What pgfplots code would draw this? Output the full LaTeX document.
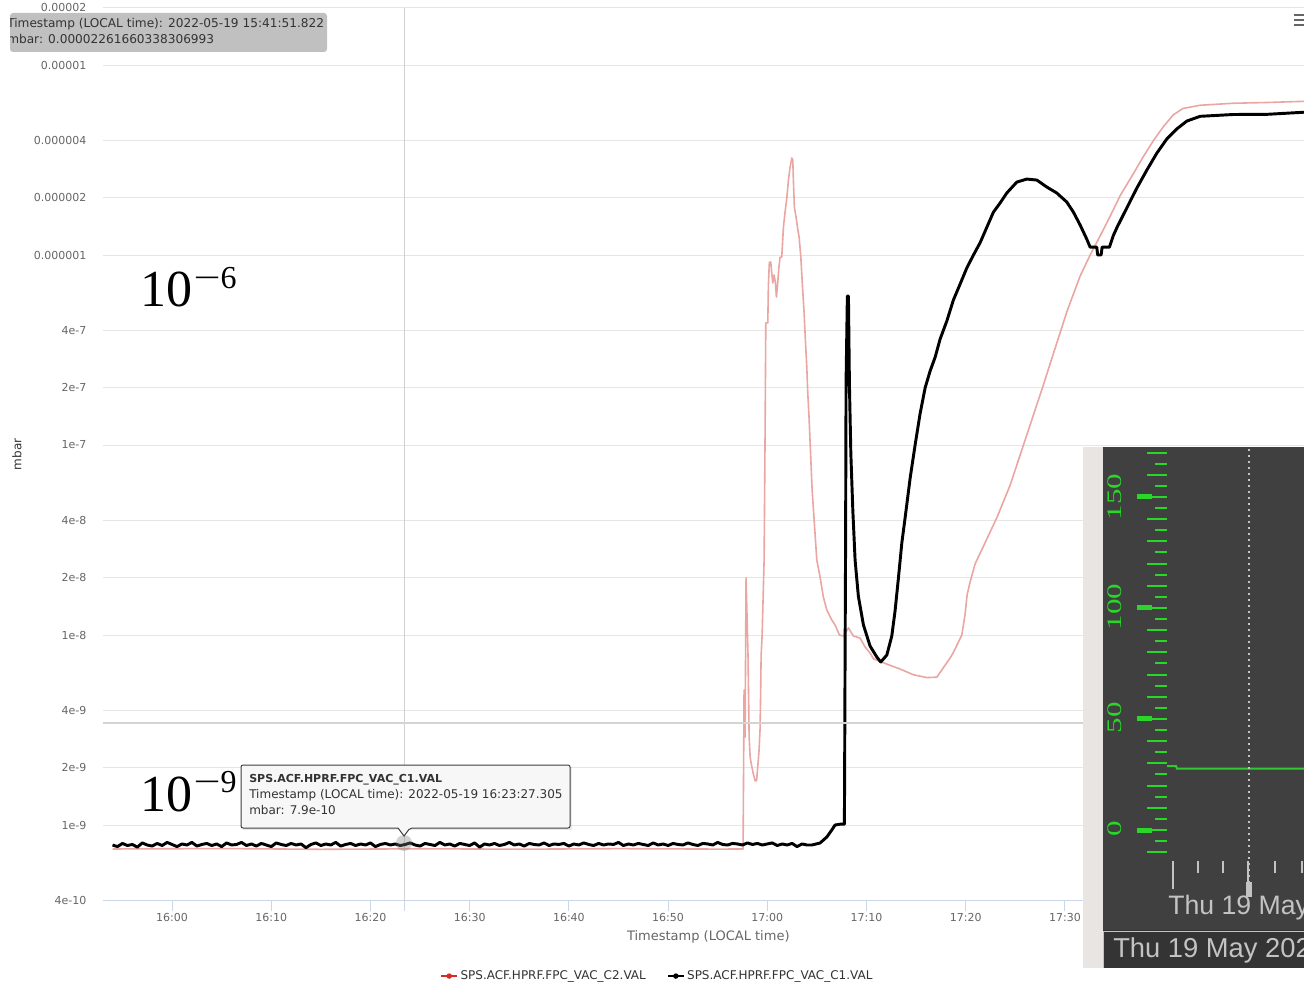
\documentclass[border=0pt]{standalone}
\usepackage{pgfplots}
\usepackage{graphicx}
\pgfplotsset{compat=1.18}
\usepackage{fontspec}
\setmainfont{DejaVu Sans}
\newfontfamily\insetserif{Liberation Serif}
\newfontfamily\insetsans{Liberation Sans}
\newfontfamily\annfont{Liberation Serif}
\definecolor{gridc}{RGB}{230,230,230}
\definecolor{xline}{RGB}{204,214,235}
\definecolor{lbl}{RGB}{102,102,102}
\definecolor{txt}{RGB}{51,51,51}
\definecolor{pinkline}{RGB}{234,166,163}
\definecolor{legred}{RGB}{212,42,42}
\definecolor{tipgray}{RGB}{192,192,192}
\definecolor{tipfill}{RGB}{247,247,247}
\definecolor{crossh}{RGB}{210,210,210}
\definecolor{darkbg}{RGB}{64,64,64}
\definecolor{darkbar}{RGB}{52,52,52}
\definecolor{strip}{RGB}{233,229,227}
\definecolor{gtick}{RGB}{40,215,40}
\definecolor{gline}{RGB}{50,200,50}
\definecolor{insettxt}{RGB}{195,195,195}
\definecolor{sepc}{RGB}{212,212,212}
\begin{document}
\begin{tikzpicture}
\useasboundingbox (0pt,0pt) rectangle (978pt,737.25pt);
\clip (0pt,0pt) rectangle (978pt,737.25pt);
\fill[white] (0pt,0pt) rectangle (978pt,737.25pt);
\begin{axis}[
  at={(77.25pt,61.8pt)}, anchor=south west,
  width=900.75pt, height=669.6pt, scale only axis,
  xmin=-6.96, xmax=114.1,
  ymode=log, ymin=4e-10, ymax=2e-5,
  axis x line=bottom, axis y line=left,
  x axis line style={-, draw=xline, line width=0.75pt},
  y axis line style={draw=none},
  xtick={0,10,...,90},
  xticklabels={16:00,16:10,16:20,16:30,16:40,16:50,17:00,17:10,17:20,17:30},
  ytick={4e-10,1e-9,2e-9,4e-9,1e-8,2e-8,4e-8,1e-7,2e-7,4e-7,1e-6,2e-6,4e-6,1e-5,2e-5},
  yticklabels={4e-10,1e-9,2e-9,4e-9,1e-8,2e-8,4e-8,1e-7,2e-7,4e-7,0.000001,0.000002,0.000004,0.00001,0.00002},
  tick align=outside, major tick length=7.5pt,
  xtick style={draw=xline, line width=0.75pt},
  ytick style={draw=none},
  minor tick style={draw=none},
  ymajorgrids, major grid style={draw=gridc, line width=0.75pt},
  ticklabel style={font=\fontsize{8.25}{10}\selectfont, text=lbl},
  yticklabel style={xshift=-1.5pt},
  xticklabel style={yshift=1.5pt},
  extra x ticks={23.39}, extra x tick labels={},
  extra x tick style={grid=major, major grid style={draw=crossh, line width=0.75pt}, tick style={draw=none}},
  xlabel={Timestamp (LOCAL time)},
  xlabel style={at={(axis description cs:0.504,-0.0408)}, anchor=center, font=\fontsize{9.75}{11}\selectfont, text=lbl},
  ylabel={mbar},
  ylabel style={at={(axis description cs:-0.0716,0.5)}, anchor=center, font=\fontsize{9}{11}\selectfont, text=txt},
  legend style={at={(axis description cs:0.462,-0.0845)}, anchor=center, draw=none, fill=none,
    font=\fontsize{9}{10}\selectfont, text=txt,
    /tikz/every even column/.append style={column sep=14pt}},
  legend columns=2,
  legend image code/.code={\draw[mark repeat=2,mark phase=2,#1] plot coordinates {(0cm,0cm) (0.21cm,0cm) (0.42cm,0cm)};},
]
\addplot[pinkline, line width=1.2pt, forget plot, line join=round] table {
-6.0 7.48e-10
5 7.52e-10
15 7.45e-10
25 7.50e-10
35 7.46e-10
45 7.51e-10
55 7.47e-10
57.56 7.48e-10
57.66 5.14e-9
57.76 2.90e-9
57.86 2.0e-8
58.06 7.66e-9
58.17 2.90e-9
58.27 2.28e-9
58.37 2.12e-9
58.57 1.88e-9
58.77 1.71e-9
58.92 1.71e-9
59.07 2.12e-9
59.17 2.48e-9
59.27 3.20e-9
59.32 4.61e-9
59.38 7.85e-9
59.48 1.0e-8
59.58 1.585e-8
59.68 2.48e-8
59.78 1.20e-7
59.85 4.39e-7
60.05 4.39e-7
60.11 6.95e-7
60.21 9.18e-7
60.35 9.18e-7
60.45 8.04e-7
60.55 7.13e-7
60.69 7.85e-7
60.82 7.13e-7
60.92 6.01e-7
61.02 6.79e-7
61.16 8.55e-7
61.29 9.75e-7
61.46 9.75e-7
61.62 1.39e-6
61.79 1.68e-6
61.97 2.0e-6
62.13 2.48e-6
62.30 2.90e-6
62.47 3.24e-6
62.57 3.16e-6
62.63 2.48e-6
62.73 1.79e-6
62.90 1.585e-6
63.04 1.40e-6
63.21 1.24e-6
63.38 9.75e-7
63.54 6.95e-7
63.71 4.95e-7
63.84 3.57e-7
63.98 2.58e-7
64.08 1.88e-7
64.21 1.39e-7
64.52 5.80e-8
64.99 2.48e-8
65.32 2.02e-8
65.65 1.585e-8
66.00 1.355e-8
66.50 1.20e-8
66.83 1.13e-8
67.27 1.0e-8
67.67 9.88e-9
68.18 1.09e-8
68.68 9.88e-9
69.35 9.64e-9
69.86 8.65e-9
70.36 8.04e-9
70.70 7.50e-9
72.05 7.03e-9
73.39 6.62e-9
74.73 6.18e-9
76.08 5.97e-9
77.09 6.0e-9
77.75 6.73e-9
78.43 7.57e-9
78.76 8.1e-9
79.61 1.0e-8
79.94 1.29e-8
80.14 1.625e-8
80.44 1.90e-8
80.95 2.37e-8
81.85 2.98e-8
83.17 4.18e-8
84.48 6.15e-8
85.69 9.53e-8
86.69 1.37e-7
87.80 2.05e-7
89.21 3.48e-7
90.22 5.07e-7
91.53 7.74e-7
92.54 1.0e-6
93.55 1.26e-6
94.56 1.60e-6
95.56 2.05e-6
96.88 2.67e-6
97.88 3.28e-6
98.89 3.98e-6
99.90 4.72e-6
100.91 5.46e-6
101.91 5.91e-6
103.63 6.14e-6
106.96 6.29e-6
110.38 6.35e-6
114.11 6.44e-6
114.7 6.45e-6
};
\addplot[black, line width=2.2pt, forget plot, line join=round] table {
-6.0 7.85e-10
-5.5 7.70e-10
-5.0 8.00e-10
-4.5 7.80e-10
-4.0 7.90e-10
-3.5 7.65e-10
-3.0 8.05e-10
-2.5 7.85e-10
-2.0 7.75e-10
-1.5 8.00e-10
-1.0 7.80e-10
-0.5 8.10e-10
0.0 7.90e-10
0.5 7.70e-10
1.0 7.95e-10
1.5 7.85e-10
2.0 8.10e-10
2.5 7.75e-10
3.0 7.90e-10
3.5 8.00e-10
4.0 7.80e-10
4.5 7.95e-10
5.0 7.70e-10
5.5 8.05e-10
6.0 7.85e-10
6.5 7.90e-10
7.0 8.10e-10
7.5 7.80e-10
8.0 7.95e-10
8.5 7.75e-10
9.0 8.00e-10
9.5 7.85e-10
10.0 7.70e-10
10.5 8.05e-10
11.0 7.90e-10
11.5 7.80e-10
12.0 8.00e-10
12.5 7.85e-10
13.0 7.95e-10
13.5 7.60e-10
14.0 7.90e-10
14.5 8.05e-10
15.0 7.80e-10
15.5 7.95e-10
16.0 7.85e-10
16.5 8.10e-10
17.0 7.75e-10
17.5 7.90e-10
18.0 8.00e-10
18.5 7.80e-10
19.0 7.95e-10
19.5 7.85e-10
20.0 8.05e-10
20.5 7.70e-10
21.0 7.90e-10
21.5 8.00e-10
22.0 7.85e-10
22.5 7.95e-10
23.0 7.80e-10
23.5 7.90e-10
24.0 8.05e-10
24.5 7.85e-10
25.0 7.75e-10
25.5 8.00e-10
26.0 7.90e-10
26.5 7.80e-10
27.0 8.10e-10
27.5 7.85e-10
28.0 7.95e-10
28.5 7.75e-10
29.0 8.00e-10
29.5 7.90e-10
30.0 7.80e-10
30.5 8.05e-10
31.0 7.65e-10
31.5 7.95e-10
32.0 7.85e-10
32.5 8.00e-10
33.0 7.80e-10
33.5 7.90e-10
34.0 8.10e-10
34.5 7.85e-10
35.0 7.95e-10
35.5 7.75e-10
36.0 8.00e-10
36.5 7.90e-10
37.0 7.85e-10
37.5 8.05e-10
38.0 7.80e-10
38.5 7.95e-10
39.0 7.90e-10
39.5 8.00e-10
40.0 7.75e-10
40.5 7.95e-10
41.0 7.85e-10
41.5 8.05e-10
42.0 7.90e-10
42.5 7.80e-10
43.0 8.00e-10
43.5 7.85e-10
44.0 7.95e-10
44.5 7.90e-10
45.0 8.10e-10
45.5 7.80e-10
46.0 7.95e-10
46.5 7.85e-10
47.0 8.00e-10
47.5 7.90e-10
48.0 7.80e-10
48.5 8.05e-10
49.0 7.85e-10
49.5 7.95e-10
50.0 7.80e-10
50.5 8.00e-10
51.0 7.90e-10
51.5 7.85e-10
52.0 8.05e-10
52.5 7.90e-10
53.0 7.80e-10
53.5 8.00e-10
54.0 7.95e-10
54.5 7.85e-10
55.0 8.10e-10
55.5 7.90e-10
56.0 7.85e-10
56.5 8.00e-10
57.0 7.95e-10
57.5 7.85e-10
58.0 8.05e-10
58.5 7.90e-10
59.0 8.00e-10
59.5 7.85e-10
60.0 7.95e-10
60.5 8.05e-10
61.0 7.80e-10
61.5 7.95e-10
62.0 7.85e-10
62.5 8.00e-10
63.0 7.70e-10
63.5 7.95e-10
64.0 7.85e-10
64.49 7.85e-10
65.32 8.04e-10
66.00 8.65e-10
66.50 9.41e-10
66.83 1.0e-9
67.34 1.01e-9
67.77 1.01e-9
67.79 1.585e-9
67.84 7.38e-9
67.89 2.80e-8
67.94 2.15e-7
68.07 6.08e-7
68.18 6.08e-7
68.28 2.07e-7
68.42 9.08e-8
68.62 4.55e-8
68.85 2.48e-8
69.18 1.60e-8
69.69 1.13e-8
70.36 8.75e-9
71.04 7.66e-9
71.44 7.21e-9
72.05 7.85e-9
72.55 9.88e-9
72.88 1.34e-8
73.22 2.0e-8
73.56 3.05e-8
73.89 4.13e-8
74.40 6.70e-8
74.90 1.0e-7
75.40 1.46e-7
75.91 2.0e-7
76.41 2.45e-7
76.92 2.90e-7
77.42 3.61e-7
78.10 4.50e-7
78.76 5.80e-7
79.44 7.04e-7
80.11 8.55e-7
80.78 1.0e-6
81.45 1.16e-6
82.13 1.40e-6
82.79 1.68e-6
83.47 1.88e-6
84.14 2.12e-6
85.15 2.42e-6
86.16 2.51e-6
87.17 2.48e-6
88.17 2.28e-6
89.18 2.12e-6
90.19 1.90e-6
90.86 1.68e-6
91.53 1.44e-6
92.21 1.21e-6
92.54 1.10e-6
93.21 1.10e-6
93.30 1.0e-6
93.65 1.0e-6
93.75 1.10e-6
94.49 1.10e-6
94.89 1.27e-6
95.23 1.39e-6
96.24 1.77e-6
97.25 2.25e-6
98.26 2.80e-6
99.27 3.44e-6
100.27 4.08e-6
101.28 4.61e-6
102.29 5.07e-6
103.63 5.37e-6
106.99 5.49e-6
110.35 5.50e-6
114.04 5.64e-6
114.7 5.65e-6
};
\addlegendimage{legred, line width=1pt, mark=*, mark size=1.5pt}
\addlegendentry{SPS.ACF.HPRF.FPC\_VAC\_C2.VAL}
\addlegendimage{black, line width=1pt, mark=*, mark size=1.5pt}
\addlegendentry{SPS.ACF.HPRF.FPC\_VAC\_C1.VAL}
\end{axis}
\begin{scope}[x=0.75pt,y=-0.75pt,shift={(0pt,737.25pt)}]
\draw[sepc, line width=1.5pt] (103,723) -- (1083,723);
\node[anchor=base west, inner sep=0, font=\annfont\fontsize{39}{44}\selectfont] at (140,306.5) {10\kern1pt\raisebox{13.5pt}{\fontsize{24}{28}\selectfont\scalebox{1.5}[1]{−}6}};
\node[anchor=base west, inner sep=0, font=\annfont\fontsize{39}{44}\selectfont] at (140,811) {10\kern1pt\raisebox{13.5pt}{\fontsize{24}{28}\selectfont\scalebox{1.5}[1]{−}9}};
\fill[tipgray, rounded corners=2.25pt] (10,13) rectangle (327,52);
\begin{scope}
\clip (10,13) rectangle (327,52);
\node[anchor=west, inner sep=0, text=txt, font=\fontsize{9.1}{11}\selectfont] at (7,24) {Timestamp (LOCAL time): 2022-05-19 15:41:51.822};
\node[anchor=west, inner sep=0, text=txt, font=\fontsize{9.1}{11}\selectfont] at (7,39) {mbar: 0.00002261660338306993};
\end{scope}
\fill[gray, opacity=0.35] (404,843) circle (6pt);
\fill[black, opacity=0.08] (243,767) rectangle (572,830);
\draw[fill=tipfill, draw=black!75, line width=0.75pt, rounded corners=1.5pt] (241,765) -- (570,765) -- (570,828) -- (410,828) [sharp corners] -- (404,836) -- (398,828) [rounded corners=1.5pt] -- (241,828) -- cycle;
\node[anchor=west, inner sep=0, text=txt, font=\bfseries\fontsize{8.25}{10}\selectfont] at (249,780) {SPS.ACF.HPRF.FPC\_VAC\_C1.VAL};
\node[anchor=west, inner sep=0, text=txt, font=\fontsize{9}{11}\selectfont] at (249,795) {Timestamp (LOCAL time): 2022-05-19 16:23:27.305};
\node[anchor=west, inner sep=0, text=txt, font=\fontsize{9}{11}\selectfont] at (249,810) {mbar: 7.9e-10};
\foreach \yy in {15,20,25} \draw[lbl, line width=1.5pt] (1294,\yy) -- (1306,\yy);
\fill[strip] (1083,447) rectangle (1104,968);
\fill[darkbg] (1103,447) rectangle (1306,930);
\fill[darkbar] (1103,930) rectangle (1306,968);
\draw[insettxt, line width=0.75pt] (1103.5,968) -- (1103.5,931) -- (1306,931);
\end{scope}
\begin{axis}[
  at={(875.25pt,91.5pt)}, anchor=south west,
  width=102.75pt, height=310.5pt, scale only axis,
  xmin=0, xmax=137, ymin=-13.96, ymax=172.5,
  axis x line=bottom, axis y line=left,
  axis line style={draw=none},
  xtick=\empty,
  ytick={-10,0,...,170}, yticklabels={},
  minor ytick={-5,5,...,165},
  tick align=outside, major tick length=15pt, minor tick length=9pt,
  tick style={draw=gtick, line width=1.5pt},
  extra y ticks={0,50,100,150}, extra y tick labels={},
  extra y tick style={major tick length=11.25pt, tick style={draw=gtick, line width=3.75pt, xshift=-11.25pt}},
]
\addplot[gline, line width=1.5pt] coordinates {(0,28.8) (9,28.8) (10,27.6) (150,27.6)};
\end{axis}
\begin{axis}[
  at={(875.25pt,91.5pt)}, anchor=south west,
  width=102.75pt, height=310.5pt, scale only axis,
  xmin=0, xmax=137, ymin=0, ymax=1,
  axis x line=bottom, axis y line=none,
  axis line style={draw=none},
  xtick={31,56,108,135}, xticklabels={},
  tick align=outside, major tick length=9pt,
  tick style={draw=insettxt, line width=1.5pt},
  extra x ticks={5.7,81}, extra x tick labels={},
  extra x tick style={major tick length=21pt, tick style={draw=insettxt, line width=1.5pt}},
]
\addplot[draw=none, forget plot] coordinates {(0,0) (1,1)};
\end{axis}
\begin{scope}[x=0.75pt,y=-0.75pt,shift={(0pt,737.25pt)}]
\draw[insettxt, line width=1.5pt, dash pattern=on 1.5pt off 3pt] (1249,449) -- (1249,882);
\fill[insettxt] (1246,882) rectangle (1252,897);
\foreach \v/\yy in {0/829,50/718,100/607,150/497}
  \node[rotate=90, inner sep=0, text=gtick, font=\insetserif\fontsize{15.5}{16}\selectfont] at (1115,\yy) {\scalebox{1.5}[1]{\v}};
\node[anchor=west, inner sep=0, text=insettxt, font=\insetsans\fontsize{20}{22}\selectfont] at (1168,908) {Thu 19 May 2022};
\node[anchor=west, inner sep=0, text=insettxt, font=\insetsans\fontsize{20.5}{22}\selectfont] at (1113,950) {Thu 19 May 2022 16:23};
\end{scope}
\end{tikzpicture}
\end{document}
